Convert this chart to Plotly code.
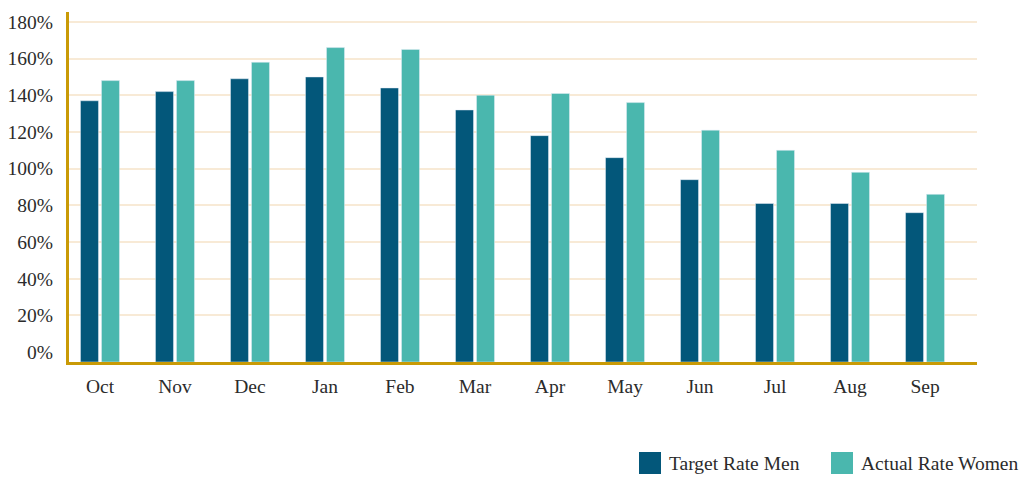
import plotly.graph_objects as go

months = ["Oct", "Nov", "Dec", "Jan", "Feb", "Mar", "Apr", "May", "Jun", "Jul", "Aug", "Sep"]
target_men = [137, 142, 149, 150, 144, 132, 118, 106, 94, 81, 81, 76]
actual_women = [148, 148, 158, 166, 165, 140, 141, 136, 121, 110, 98, 86]
y_ticks = [0, 20, 40, 60, 80, 100, 120, 140, 160, 180]
y_tick_text = [f"{v}%" for v in y_ticks]

C_MEN = "#03577A"
C_WOMEN = "#4AB7AE"
GOLD = "#C99A06"
FONT = "Liberation Serif"
TXT = "#2b2b2b"
FS = 19.5

W, H = 1032, 477
L, R, T, B = 69, 55, 12, 115
y_min, y_max = -5.4, 185.4

fig = go.Figure()
fig.add_trace(go.Bar(x=months, y=[v - y_min for v in target_men], base=y_min,
                     name="Target Rate Men", marker_color=C_MEN, showlegend=False))
fig.add_trace(go.Bar(x=months, y=[v - y_min for v in actual_women], base=y_min,
                     name="Actual Rate Women", marker_color=C_WOMEN, showlegend=False))

fig.update_layout(
    width=W, height=H,
    margin=dict(l=L, r=R, t=T, b=B, autoexpand=False),
    paper_bgcolor="white", plot_bgcolor="white",
    barmode="group", bargap=0.44, bargroupgap=0.143,
    font=dict(family=FONT, size=FS, color=TXT),
    xaxis=dict(range=[-0.413, 11.693], showgrid=False, showline=True, automargin=False,
               linecolor=GOLD, linewidth=3, ticks="", ticklabelstandoff=5,
               tickfont=dict(family=FONT, size=FS, color=TXT), fixedrange=True),
    yaxis=dict(range=[y_min, y_max], tickvals=y_ticks, ticktext=y_tick_text, automargin=False,
               showgrid=True, gridcolor="#F8EAD6", gridwidth=1.5,
               zeroline=True, zerolinecolor="white", zerolinewidth=1,
               showline=True, linecolor=GOLD, linewidth=3, ticks="",
               ticklabelstandoff=9,
               tickfont=dict(family=FONT, size=FS, color=TXT)),
)

def px_x(p):
    return (p - L) / (W - L - R)

def px_y(p):
    return (H - B - p) / (H - T - B)

legend_items = [("Target Rate Men", C_MEN, 639), ("Actual Rate Women", C_WOMEN, 831)]
for label, col, x0 in legend_items:
    fig.add_shape(type="rect", xref="paper", yref="paper",
                  x0=px_x(x0), x1=px_x(x0 + 22), y0=px_y(474), y1=px_y(452),
                  fillcolor=col, line=dict(width=0))
    fig.add_annotation(xref="paper", yref="paper", x=px_x(x0 + 28), y=px_y(463),
                       text=label, showarrow=False, xanchor="left", yanchor="middle",
                       font=dict(family=FONT, size=FS, color=TXT))

fig.write_html("out.html", config={"displayModeBar": False},
               post_script="document.body.style.margin='0';document.body.style.overflow='hidden';")
